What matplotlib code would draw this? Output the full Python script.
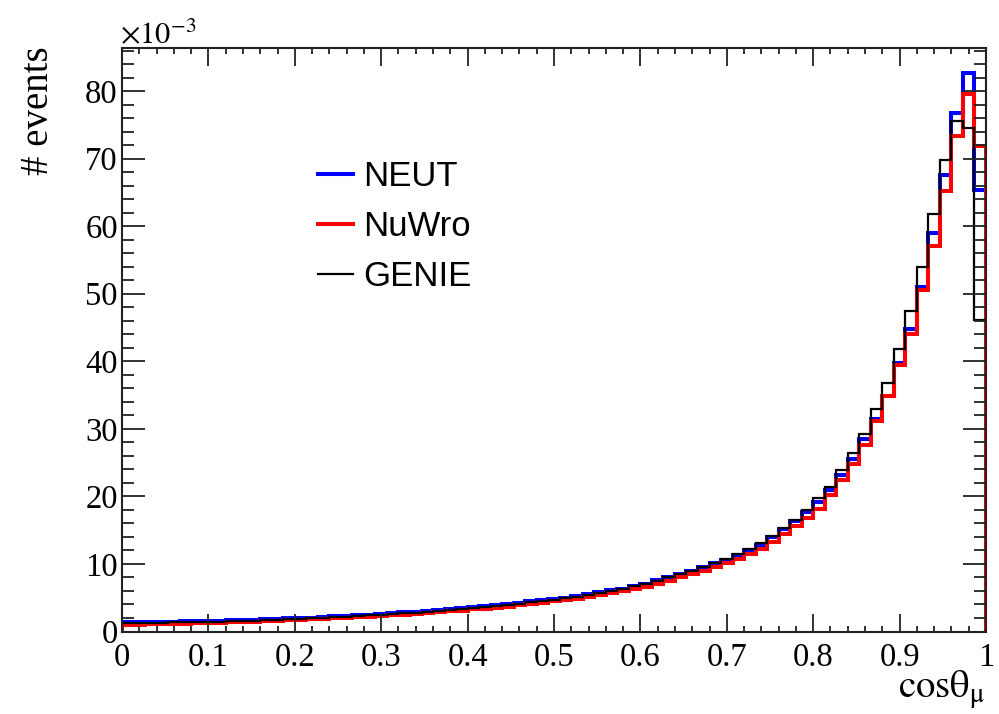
import numpy as np
import matplotlib
matplotlib.use("Agg")
import matplotlib.pyplot as plt
from matplotlib.lines import Line2D
from matplotlib.ticker import MultipleLocator

plt.rcParams['mathtext.fontset'] = 'stix'
plt.rcParams['font.family'] = ['Liberation Serif', 'DejaVu Serif']

# cos(theta_mu) binning: 75 equal bins on [0, 1]
n_bins = 75
x_min, x_max = 0.0, 1.0

# events per bin, in units of 1e-3
neut = [1.35, 1.35, 1.4, 1.45, 1.45, 1.55, 1.6, 1.6, 1.6, 1.65,
        1.7, 1.75, 1.8, 1.85, 1.95, 2.0, 2.05, 2.15, 2.25, 2.3,
        2.45, 2.5, 2.6, 2.7, 2.85, 2.95, 3.05, 3.2, 3.3, 3.45,
        3.6, 3.8, 3.95, 4.1, 4.25, 4.45, 4.6, 4.8, 5.0, 5.3,
        5.55, 5.8, 6.1, 6.35, 6.7, 7.1, 7.55, 8.0, 8.45, 9.0,
        9.5, 10.1, 10.6, 11.3, 12.0, 12.8, 14.0, 15.1, 16.4, 17.7,
        19.1, 21.0, 23.2, 25.6, 28.5, 31.5, 34.9, 39.8, 44.8, 51.0,
        59.0, 67.6, 76.8, 82.7, 65.3]

nuwro = [1.0, 1.0, 1.05, 1.1, 1.15, 1.15, 1.2, 1.25, 1.3, 1.35,
         1.4, 1.45, 1.5, 1.6, 1.65, 1.7, 1.8, 1.85, 1.95, 2.0,
         2.1, 2.2, 2.3, 2.4, 2.5, 2.6, 2.75, 2.85, 3.0, 3.1,
         3.3, 3.4, 3.55, 3.7, 3.9, 4.05, 4.25, 4.45, 4.65, 4.85,
         5.1, 5.35, 5.65, 5.95, 6.3, 6.65, 7.05, 7.5, 8.0, 8.5,
         9.0, 9.6, 10.15, 10.8, 11.5, 12.2, 13.3, 14.4, 15.6, 16.8,
         18.2, 20.2, 22.4, 24.8, 27.6, 31.1, 34.8, 39.5, 44.1, 50.6,
         57.1, 65.2, 73.4, 79.5, 71.9]

genie = [1.2, 1.2, 1.2, 1.3, 1.35, 1.4, 1.4, 1.45, 1.45, 1.5,
         1.55, 1.6, 1.7, 1.75, 1.8, 1.9, 1.95, 2.05, 2.1, 2.2,
         2.3, 2.4, 2.5, 2.6, 2.7, 2.8, 2.95, 3.05, 3.2, 3.35,
         3.5, 3.65, 3.8, 3.95, 4.1, 4.3, 4.5, 4.7, 4.9, 5.15,
         5.4, 5.7, 6.0, 6.3, 6.7, 7.1, 7.5, 8.0, 8.5, 9.0,
         9.6, 10.1, 10.7, 11.4, 12.2, 13.1, 14.2, 15.3, 16.5, 18.0,
         19.8, 21.4, 23.9, 26.4, 29.3, 32.9, 36.8, 41.8, 47.5, 53.9,
         61.8, 69.8, 75.6, 74.5, 46.1]

labels = ["NEUT", "NuWro", "GENIE"]
colors = ["#0000ff", "#ff0000", "#000000"]
widths = [2.9, 2.9, 1.6]
x_ticklabels = ["0", "0.1", "0.2", "0.3", "0.4", "0.5", "0.6", "0.7", "0.8", "0.9", "1"]

edges = np.linspace(x_min, x_max, n_bins + 1)
W, H = 999, 714
fig = plt.figure(figsize=(W / 100, H / 100), dpi=100)
ax = fig.add_axes([122 / W, 1 - 631.5 / H, (986 - 122) / W, (631.5 - 47.7) / H])

for vals, c, lw in zip([neut, nuwro, genie], colors, widths):
    ax.stairs(vals, edges, color=c, linewidth=lw, baseline=0)

ymax = max(max(neut), max(nuwro), max(genie)) * 1.045
ax.set_xlim(x_min, x_max)
ax.set_ylim(0, ymax)

ax.xaxis.set_minor_locator(MultipleLocator(0.02))
ax.yaxis.set_major_locator(MultipleLocator(10))
ax.yaxis.set_minor_locator(MultipleLocator(2))
ax.set_xticks(np.linspace(x_min, x_max, len(x_ticklabels)))
ax.set_xticklabels(x_ticklabels)

ax.tick_params(axis='both', which='both', direction='in', top=True, right=True,
               width=1.3, labelsize=23.5, colors='#222222', labelcolor='black')
ax.tick_params(axis='x', which='major', length=13, pad=8)
ax.tick_params(axis='x', which='minor', length=4.5)
ax.tick_params(axis='y', which='major', length=16.5, pad=3)
ax.tick_params(axis='y', which='minor', length=8.5)
for s in ax.spines.values():
    s.set_linewidth(1.5)
    s.set_color('#222222')

fig.text(38 / W, 1 - 46 / H, "# events", rotation=90, ha='center', va='top', fontsize=28)
fig.text(986 / W, 1 - 698 / H, r"$\mathrm{cos\theta_{\mu}}$", ha='right', va='baseline', fontsize=28)
fig.text(120 / W, 1 - 43 / H, r"$\times10^{-3}$", ha='left', va='baseline', fontsize=22)

handles = [Line2D([], [], color=c, linewidth=lw) for c, lw in zip(colors, widths)]
leg = ax.legend(handles, labels, loc='upper left', bbox_to_anchor=(318 / W, 1 - 160 / H),
                bbox_transform=fig.transFigure, frameon=False, borderpad=0, borderaxespad=0,
                handlelength=1.0, handletextpad=0.29, labelspacing=0.49,
                prop={'family': 'Liberation Sans', 'size': 25})

fig.savefig("out.png", dpi=100)
